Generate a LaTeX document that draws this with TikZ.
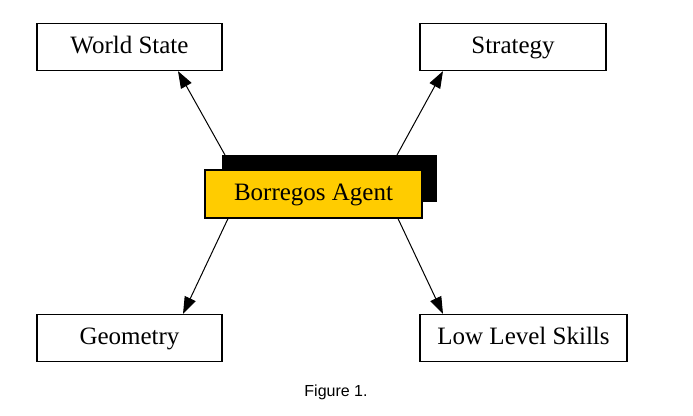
\documentclass[tikz,border=0pt]{standalone}
\usepackage{fontspec}
\setmainfont{Liberation Serif}
\newfontfamily\capfont{Liberation Sans}
\usetikzlibrary{arrows.meta}
\begin{document}
\begin{tikzpicture}[x=1pt,y=-1pt,
  box/.style={draw,line width=1.2pt,fill=white,font=\fontsize{25}{27}\selectfont,text height=17pt,text depth=5pt},
  arr/.style={-{Triangle[length=17pt,width=12pt]},line width=1pt}]
\useasboundingbox (0,0) rectangle (693,415);
\node[box,minimum width=185pt,minimum height=47pt] (ws) at (129.5,47) {World State};
\node[box,minimum width=186pt,minimum height=47pt] (st) at (513,47) {Strategy};
\node[box,minimum width=185pt,minimum height=47pt] (ge) at (129.5,338) {Geometry};
\node[box,minimum width=207pt,minimum height=47pt] (ll) at (523.5,338) {Low Level Skills};
\coordinate (a1) at (225,155);
\coordinate (a2) at (397,155);
\draw[arr] (a1) -- (ws.south -| 178,0);
\draw[arr] (a2) -- (st.south -| 443,0);
\fill[black] (222,155) rectangle (437,202);
\node[box,fill={rgb,255:red,255;green,204;blue,0},minimum width=217pt,minimum height=48pt] (ag) at (313.5,194) {Borregos Agent};
\draw[arr] (ag.south -| 228,0) -- (ge.north -| 183,0);
\draw[arr] (ag.south -| 398,0) -- (ll.north -| 443,0);
\node[font=\capfont\fontsize{16}{18}\selectfont] (cap) at (336,392) {Figure 1.};
\end{tikzpicture}
\end{document}
